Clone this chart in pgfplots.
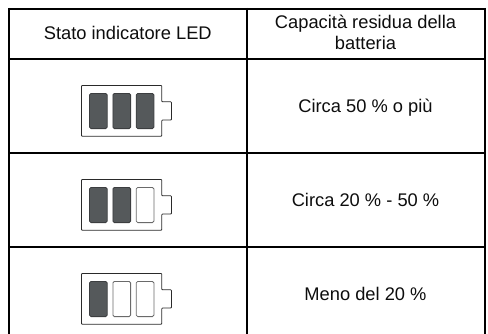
\documentclass[border=0pt]{standalone}
\usepackage{fontspec}
\setmainfont{Liberation Sans}
\usepackage{pgfplots}
\pgfplotsset{compat=1.18}
\definecolor{cellfill}{HTML}{55595B}
\definecolor{celledge}{HTML}{3C3E40}
\definecolor{emptyedge}{HTML}{6A6A6A}
\definecolor{shell}{HTML}{2A2A2A}
\pgfplotsset{
 full/.style={draw=celledge,fill=cellfill},
 empty/.style={draw=emptyedge,fill=white},
 shellline/.style={draw=shell,line width=0.8bp,rounded corners=0.8bp},
 rule/.style={black,line width=2bp}}
\begin{document}
\begin{tikzpicture}
\begin{axis}[
  scale only axis, width=488bp, height=334bp,
  xmin=0, xmax=488, ymin=0, ymax=334, y dir=reverse,
  axis lines=none, clip=false,
  every axis plot/.append style={no markers, forget plot, solid},
  cycle list={{black}}]
\path[use as bounding box] (axis cs:0,0) rectangle (axis cs:488,334);
% table grid
\addplot[rule] coordinates {(8,8.8) (486,8.8)};
\addplot[rule] coordinates {(8,59) (486,59)};
\addplot[rule] coordinates {(8,152.8) (486,152.8)};
\addplot[rule] coordinates {(8,246.8) (486,246.8)};
\addplot[rule] coordinates {(9,8) (9,334)};
\addplot[rule] coordinates {(247,8) (247,334)};
\addplot[rule] coordinates {(485,8) (485,334)};
% battery 1
\addplot[shellline] coordinates {(81.5,85.4) (161.8,85.4) (161.8,101.8) (171.5,101.8) (171.5,120) (161.8,120) (161.8,136.3) (81.5,136.3)} --cycle;
\addplot[full,line width=0.8bp,rounded corners=1.5bp] coordinates {(89.5,93.4) (107.2,93.4) (107.2,128.6) (89.5,128.6)} --cycle;
\addplot[full,line width=0.8bp,rounded corners=1.5bp] coordinates {(112.9,93.4) (130.6,93.4) (130.6,128.6) (112.9,128.6)} --cycle;
\addplot[full,line width=0.8bp,rounded corners=1.5bp] coordinates {(136.2,93.4) (153.9,93.4) (153.9,128.6) (136.2,128.6)} --cycle;
% battery 2
\addplot[shellline] coordinates {(81.5,179.4) (161.8,179.4) (161.8,195.8) (171.5,195.8) (171.5,214) (161.8,214) (161.8,230.3) (81.5,230.3)} --cycle;
\addplot[full,line width=0.8bp,rounded corners=1.5bp] coordinates {(89.5,187.4) (107.2,187.4) (107.2,222.6) (89.5,222.6)} --cycle;
\addplot[full,line width=0.8bp,rounded corners=1.5bp] coordinates {(112.9,187.4) (130.6,187.4) (130.6,222.6) (112.9,222.6)} --cycle;
\addplot[empty,line width=0.8bp,rounded corners=1.5bp] coordinates {(136.2,187.4) (153.9,187.4) (153.9,222.6) (136.2,222.6)} --cycle;
% battery 3
\addplot[shellline] coordinates {(81.5,273.4) (161.8,273.4) (161.8,289.8) (171.5,289.8) (171.5,308) (161.8,308) (161.8,324.3) (81.5,324.3)} --cycle;
\addplot[full,line width=0.8bp,rounded corners=1.5bp] coordinates {(89.5,281.4) (107.2,281.4) (107.2,316.6) (89.5,316.6)} --cycle;
\addplot[empty,line width=0.8bp,rounded corners=1.5bp] coordinates {(112.9,281.4) (130.6,281.4) (130.6,316.6) (112.9,316.6)} --cycle;
\addplot[empty,line width=0.8bp,rounded corners=1.5bp] coordinates {(136.2,281.4) (153.9,281.4) (153.9,316.6) (136.2,316.6)} --cycle;
% text
\begin{scope}[every node/.style={font=\fontsize{18.3bp}{22bp}\selectfont,text=black!95,inner sep=0pt,anchor=base}]
\node at (axis cs:127.8,39) {Stato indicatore LED};
\node at (axis cs:365.5,28.4) {Capacità residua della};
\node at (axis cs:365.5,49.3) {batteria};
\node at (axis cs:365.5,112.5) {Circa 50 \% o più};
\node at (axis cs:365.5,206.5) {Circa 20 \% - 50 \%};
\node at (axis cs:365.5,300.5) {Meno del 20 \%};
\end{scope}
\end{axis}
\end{tikzpicture}
\end{document}
